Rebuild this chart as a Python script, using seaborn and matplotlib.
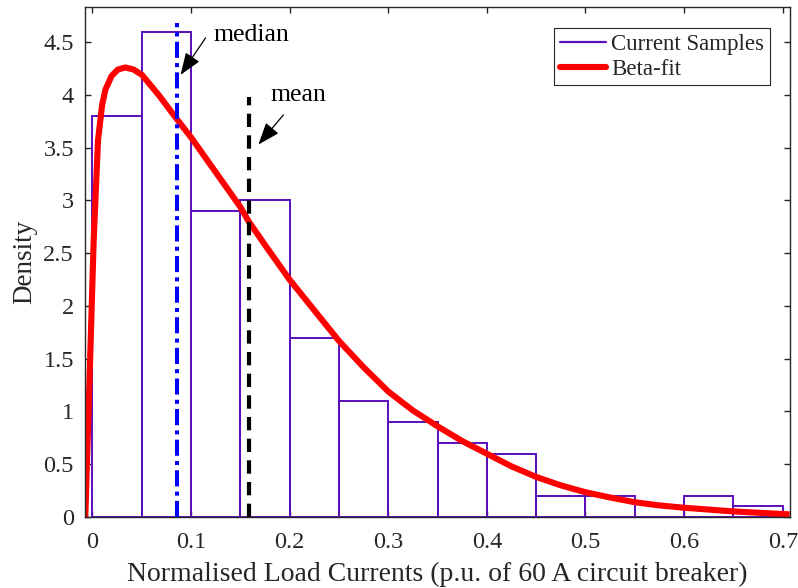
import numpy as np
import pandas as pd
import matplotlib
matplotlib.use("Agg")
import matplotlib.pyplot as plt
import seaborn as sns
from matplotlib.lines import Line2D
from matplotlib.ticker import FuncFormatter

# ---------------- data ----------------
bin_edges = [0.0, 0.05, 0.10, 0.15, 0.20, 0.25, 0.30, 0.35, 0.40, 0.45,
             0.50, 0.55, 0.60, 0.65, 0.70]
bin_density = [3.8, 4.6, 2.9, 3.0, 1.7, 1.1, 0.9, 0.7, 0.6, 0.2,
               0.2, 0.0, 0.2, 0.1]

fit_x = [-0.007, -0.0025, 0.0015, 0.0059, 0.010, 0.0134, 0.0197, 0.026,
         0.0336, 0.042, 0.0504, 0.0673, 0.085, 0.100, 0.125, 0.150, 0.1587,
         0.175, 0.200, 0.225, 0.250, 0.275, 0.300, 0.325, 0.350, 0.375,
         0.400, 0.425, 0.450, 0.475, 0.500, 0.525, 0.550, 0.575, 0.600,
         0.650, 0.707]
fit_y = [0.0, 1.36, 2.62, 3.57, 3.90, 4.05, 4.18, 4.24,
         4.26, 4.24, 4.19, 4.00, 3.78, 3.60, 3.27, 2.94, 2.80,
         2.58, 2.25, 1.96, 1.67, 1.42, 1.19, 1.01, 0.86, 0.72,
         0.60, 0.48, 0.38, 0.30, 0.235, 0.185, 0.14, 0.11, 0.088,
         0.053, 0.025]

median_x = 0.0855
median_top = 4.68
mean_x = 0.1587
mean_top = 3.98

x_ticks = [0, 0.1, 0.2, 0.3, 0.4, 0.5, 0.6, 0.7]
y_ticks = [0, 0.5, 1, 1.5, 2, 2.5, 3, 3.5, 4, 4.5]

legend_labels = ["Current Samples", "Beta-fit"]
x_label = "Normalised Load Currents (p.u. of 60 A circuit breaker)"
y_label = "Density"

# ---------------- style ----------------
sns.set_style("ticks")
plt.rcParams["font.family"] = ["Liberation Serif", "DejaVu Serif"]

purple = "#5a0dbb"
axis_col = "#262626"

fig = plt.figure(figsize=(7.98, 5.88), dpi=100)
ax = fig.add_axes([0.1065, 0.1207, 0.990 - 0.1065, 0.9876 - 0.1207])

centers = [(bin_edges[i] + bin_edges[i + 1]) / 2 for i in range(len(bin_density))]
hist_df = pd.DataFrame({"x": centers, "w": bin_density})
sns.histplot(data=hist_df, x="x", weights="w", bins=bin_edges, stat="count",
             element="bars", fill=False, color=purple, linewidth=1.4, ax=ax)

fit_df = pd.DataFrame({"x": fit_x, "y": fit_y})
sns.lineplot(data=fit_df, x="x", y="y", color="#ff0000", linewidth=4.4,
             ax=ax, sort=True, solid_capstyle="butt", solid_joinstyle="round")

ax.plot([median_x, median_x], [0, median_top], color="#0000ff", linewidth=2.9,
        linestyle=(0, (4, 1.3, 1, 1.3)))
ax.plot([mean_x, mean_x], [0, mean_top], color="black", linewidth=3.0,
        linestyle=(0, (3.2, 2.0)))

arrow_kw = dict(arrowstyle="-|>,head_length=0.8,head_width=0.3", color="black",
                lw=0.9, shrinkA=0, shrinkB=0, mutation_scale=17)
ax.annotate("", xy=(0.0896, 4.19), xytext=(0.1149, 4.54), arrowprops=arrow_kw)
ax.text(0.1230, 4.57, "median", fontsize=18.5, ha="left", va="center",
        color="black")
ax.annotate("", xy=(0.1685, 3.53), xytext=(0.1938, 3.81), arrowprops=arrow_kw)
ax.text(0.1807, 4.00, "mean", fontsize=18.5, ha="left", va="center",
        color="black")

ax.set_xlim(-0.0073, 0.7073)
ax.set_ylim(0, 4.83)
ax.set_xticks(x_ticks)
ax.set_yticks(y_ticks)
fmt = FuncFormatter(lambda v, p: ("%g" % round(v, 3)))
ax.xaxis.set_major_formatter(fmt)
ax.yaxis.set_major_formatter(fmt)

ax.set_xlabel(x_label, fontsize=20, color=axis_col, labelpad=6)
ax.set_ylabel(y_label, fontsize=19.5, color=axis_col, labelpad=4)
ax.tick_params(axis="both", which="both", direction="in", length=4.5,
               width=1.0, color=axis_col, labelcolor=axis_col, labelsize=17.5,
               top=True, right=True)
ax.tick_params(axis="x", pad=11)
ax.tick_params(axis="y", pad=8)
for s in ax.spines.values():
    s.set_visible(True)
    s.set_color(axis_col)
    s.set_linewidth(1.0)

handles = [Line2D([], [], color=purple, linewidth=1.6),
           Line2D([], [], color="#ff0000", linewidth=4.4)]
leg = ax.legend(handles, legend_labels, loc="upper right",
                bbox_to_anchor=(0.9716, 0.9594), fontsize=16.5, frameon=True,
                fancybox=False, framealpha=1, edgecolor=axis_col,
                handlelength=2.0, handletextpad=0.25, borderpad=0.25,
                labelspacing=0.17, borderaxespad=0)
leg.get_frame().set_linewidth(0.8)

fig.savefig("out.png", dpi=100)
